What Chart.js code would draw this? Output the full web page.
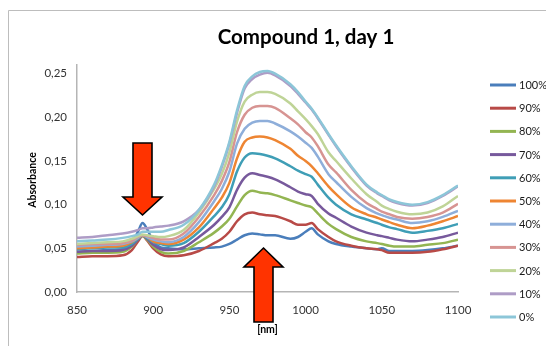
<!DOCTYPE html>
<html>
<head>
<meta charset="utf-8">
<script src="https://cdn.jsdelivr.net/npm/chart.js@4"></script>
<style>
  html, body { margin: 0; padding: 0; background: #fff; }
  #wrap { position: relative; width: 546px; height: 346px; }
</style>
</head>
<body>
<div id="wrap"><canvas id="chart" width="546" height="346"></canvas></div>
<script>
const wavelengths = [850, 860, 870, 880, 886, 890, 893, 896, 900, 905, 910, 920, 930, 940, 945, 950, 955, 960, 965, 970,
  975, 980, 990, 995, 1000, 1004, 1008, 1015, 1020, 1030, 1040, 1047, 1050, 1055, 1060, 1070, 1080, 1090, 1100];

const seriesNames = ['100%', '90%', '80%', '70%', '60%', '50%', '40%', '30%', '20%', '10%', '0%'];
const seriesColors = ['#4A7EBB', '#B84A47', '#93B552', '#77599C', '#3F9EB6', '#EE8532', '#8EAEDA', '#D79492', '#BFD497', '#AE9CC6', '#8CC6D8'];

const abs100 = [0.046, 0.047, 0.048, 0.049, 0.056, 0.069, 0.079, 0.072, 0.058, 0.051, 0.050, 0.049, 0.050, 0.051, 0.052, 0.055,
  0.060, 0.065, 0.067, 0.066, 0.065, 0.065, 0.061, 0.063, 0.069, 0.073, 0.066, 0.058, 0.055, 0.052, 0.050, 0.049,
  0.050, 0.047, 0.047, 0.047, 0.048, 0.050, 0.053];
const abs90 = [0.040, 0.041, 0.041, 0.042, 0.048, 0.058, 0.064, 0.059, 0.050, 0.043, 0.041, 0.042, 0.047, 0.056, 0.061, 0.069,
  0.081, 0.089, 0.091, 0.089, 0.088, 0.087, 0.081, 0.077, 0.077, 0.079, 0.072, 0.063, 0.058, 0.053, 0.050, 0.049,
  0.048, 0.045, 0.045, 0.045, 0.046, 0.049, 0.053];
const abs80 = [0.044, 0.045, 0.045, 0.046, 0.052, 0.060, 0.064, 0.060, 0.052, 0.046, 0.044, 0.047, 0.057, 0.068, 0.075, 0.084,
  0.098, 0.111, 0.116, 0.114, 0.113, 0.111, 0.105, 0.102, 0.099, 0.097, 0.090, 0.078, 0.072, 0.063, 0.058, 0.056,
  0.055, 0.053, 0.052, 0.052, 0.054, 0.056, 0.060];
const abs70 = [0.046, 0.047, 0.047, 0.048, 0.053, 0.060, 0.065, 0.061, 0.054, 0.049, 0.048, 0.051, 0.063, 0.077, 0.086, 0.097,
  0.117, 0.131, 0.136, 0.134, 0.132, 0.129, 0.120, 0.115, 0.112, 0.110, 0.101, 0.090, 0.085, 0.075, 0.068, 0.065,
  0.064, 0.062, 0.060, 0.058, 0.060, 0.063, 0.068];
const abs60 = [0.049, 0.050, 0.051, 0.051, 0.055, 0.061, 0.065, 0.062, 0.057, 0.055, 0.053, 0.056, 0.069, 0.087, 0.097, 0.112,
  0.138, 0.154, 0.159, 0.158, 0.156, 0.153, 0.144, 0.139, 0.135, 0.132, 0.123, 0.108, 0.100, 0.089, 0.083, 0.079,
  0.077, 0.074, 0.072, 0.068, 0.070, 0.073, 0.078];
const abs50 = [0.050, 0.051, 0.052, 0.053, 0.057, 0.062, 0.065, 0.063, 0.058, 0.056, 0.055, 0.060, 0.074, 0.096, 0.108, 0.125,
  0.153, 0.172, 0.177, 0.178, 0.177, 0.174, 0.164, 0.156, 0.150, 0.144, 0.136, 0.121, 0.112, 0.097, 0.089, 0.085,
  0.083, 0.080, 0.077, 0.073, 0.076, 0.081, 0.087];
const abs40 = [0.052, 0.053, 0.054, 0.055, 0.058, 0.062, 0.065, 0.063, 0.060, 0.058, 0.057, 0.063, 0.080, 0.104, 0.118, 0.138,
  0.170, 0.187, 0.194, 0.196, 0.196, 0.193, 0.184, 0.178, 0.171, 0.165, 0.155, 0.135, 0.126, 0.109, 0.096, 0.090,
  0.088, 0.085, 0.083, 0.079, 0.081, 0.086, 0.093];
const abs30 = [0.054, 0.055, 0.055, 0.056, 0.059, 0.063, 0.065, 0.064, 0.062, 0.060, 0.060, 0.067, 0.086, 0.111, 0.127, 0.149,
  0.183, 0.203, 0.211, 0.213, 0.213, 0.211, 0.199, 0.192, 0.183, 0.177, 0.167, 0.146, 0.137, 0.117, 0.102, 0.095,
  0.092, 0.089, 0.086, 0.084, 0.086, 0.091, 0.101];
const abs20 = [0.055, 0.056, 0.057, 0.058, 0.061, 0.064, 0.066, 0.065, 0.064, 0.063, 0.064, 0.071, 0.091, 0.118, 0.135, 0.160,
  0.195, 0.218, 0.226, 0.229, 0.229, 0.227, 0.216, 0.207, 0.198, 0.190, 0.181, 0.160, 0.150, 0.130, 0.112, 0.103,
  0.099, 0.095, 0.092, 0.089, 0.091, 0.098, 0.110];
const abs10 = [0.062, 0.063, 0.065, 0.067, 0.069, 0.071, 0.073, 0.073, 0.074, 0.075, 0.076, 0.081, 0.094, 0.121, 0.143, 0.170,
  0.205, 0.233, 0.244, 0.249, 0.251, 0.248, 0.236, 0.227, 0.217, 0.209, 0.199, 0.180, 0.167, 0.143, 0.122, 0.113,
  0.110, 0.105, 0.102, 0.099, 0.102, 0.110, 0.121];
const abs0 = [0.058, 0.059, 0.060, 0.062, 0.064, 0.066, 0.069, 0.069, 0.069, 0.069, 0.071, 0.077, 0.094, 0.123, 0.145, 0.172,
  0.208, 0.236, 0.247, 0.252, 0.253, 0.250, 0.238, 0.229, 0.218, 0.210, 0.200, 0.181, 0.168, 0.144, 0.123, 0.114,
  0.111, 0.106, 0.103, 0.100, 0.103, 0.111, 0.122];

const seriesValues = [abs100, abs90, abs80, abs70, abs60, abs50, abs40, abs30, abs20, abs10, abs0];
const xTicks = [850, 900, 950, 1000, 1050, 1100];
const yTicks = [0, 0.05, 0.10, 0.15, 0.20, 0.25];

const FONT = 'Lato, "Open Sans", sans-serif';

const datasets = seriesNames.map((name, i) => ({
  label: name,
  data: wavelengths.map((w, j) => ({ x: w, y: seriesValues[i][j] })),
  borderColor: seriesColors[i],
  backgroundColor: seriesColors[i],
  borderWidth: 2.5,
  pointRadius: 0,
  cubicInterpolationMode: 'monotone',
  order: seriesNames.length - 1 - i
}));

function drawArrow(ctx, pts) {
  ctx.beginPath();
  pts.forEach((p, i) => (i ? ctx.lineTo(p[0], p[1]) : ctx.moveTo(p[0], p[1])));
  ctx.closePath();
  ctx.fillStyle = '#FF3300';
  ctx.fill();
  ctx.lineWidth = 1.6;
  ctx.strokeStyle = '#000';
  ctx.lineJoin = 'miter';
  ctx.stroke();
}

const decor = {
  id: 'decor',
  beforeDraw(chart) {
    const ctx = chart.ctx;
    ctx.save();
    ctx.fillStyle = '#fff';
    ctx.fillRect(0, 0, chart.width, chart.height);
    ctx.strokeStyle = '#BDBDBD';
    ctx.lineWidth = 1;
    ctx.beginPath();
    ctx.moveTo(8.5, chart.height);
    ctx.lineTo(8.5, 10.5);
    ctx.lineTo(chart.width, 10.5);
    ctx.stroke();
    ctx.restore();
  },
  afterDraw(chart) {
    const ctx = chart.ctx;
    const area = chart.chartArea;
    ctx.save();
    ctx.fillStyle = '#000';
    ctx.textBaseline = 'middle';
    ctx.textAlign = 'center';
    ctx.font = 'bold 20.5px ' + FONT;
    ctx.fillText('Compound 1, day 1', 306, 37);

    ctx.font = 'bold 10.5px ' + FONT;
    ctx.fillText('[nm]', (area.left + area.right) / 2, 330);
    ctx.save();
    ctx.translate(33, 180);
    ctx.rotate(-Math.PI / 2);
    ctx.fillText('Absorbance', 0, 0);
    ctx.restore();

    // legend
    ctx.textAlign = 'left';
    ctx.font = '11px ' + FONT;
    seriesNames.forEach((name, i) => {
      const y = 85 + i * 23.2;
      ctx.strokeStyle = seriesColors[i];
      ctx.lineWidth = 3;
      ctx.beginPath();
      ctx.moveTo(490, y);
      ctx.lineTo(516, y);
      ctx.stroke();
      ctx.fillStyle = '#1a1a1a';
      ctx.fillText(name, 519, y + 0.5);
    });

    // annotation arrows
    drawArrow(ctx, [[133, 143], [152, 143], [152, 197], [162, 197], [142.5, 215], [123, 197], [133, 197]]);
    drawArrow(ctx, [[263.5, 248], [283, 267], [273, 267], [273, 322], [254, 322], [254, 267], [244, 267]]);
    ctx.restore();
  }
};

new Chart(document.getElementById('chart'), {
  type: 'line',
  data: { datasets },
  options: {
    responsive: false,
    animation: false,
    layout: { padding: { top: 65, right: 88, left: 0, bottom: 0 } },
    plugins: { legend: { display: false }, title: { display: false }, tooltip: { enabled: false } },
    scales: {
      x: {
        type: 'linear',
        min: 850,
        max: 1100,
        afterBuildTicks: (scale) => { scale.ticks = xTicks.map((v) => ({ value: v })); },
        afterFit: (scale) => { scale.height = 54; },
        grid: { display: false, drawTicks: false },
        border: { display: true, color: '#B5B5B5', width: 1.5 },
        ticks: { padding: 11, color: '#333', font: { family: FONT, size: 11.5 }, maxRotation: 0, callback: (v) => String(v) }
      },
      y: {
        min: 0,
        max: 0.26,
        afterBuildTicks: (scale) => { scale.ticks = yTicks.map((v) => ({ value: v })); },
        afterFit: (scale) => { scale.width = 77; },
        grid: { display: false, drawTicks: false },
        border: { display: true, color: '#B5B5B5', width: 1.5 },
        ticks: {
          padding: 10,
          color: '#333',
          font: { family: FONT, size: 11.5 },
          callback: (v) => v.toFixed(2).replace('.', ',')
        }
      }
    }
  },
  plugins: [decor]
});
</script>
</body>
</html>
